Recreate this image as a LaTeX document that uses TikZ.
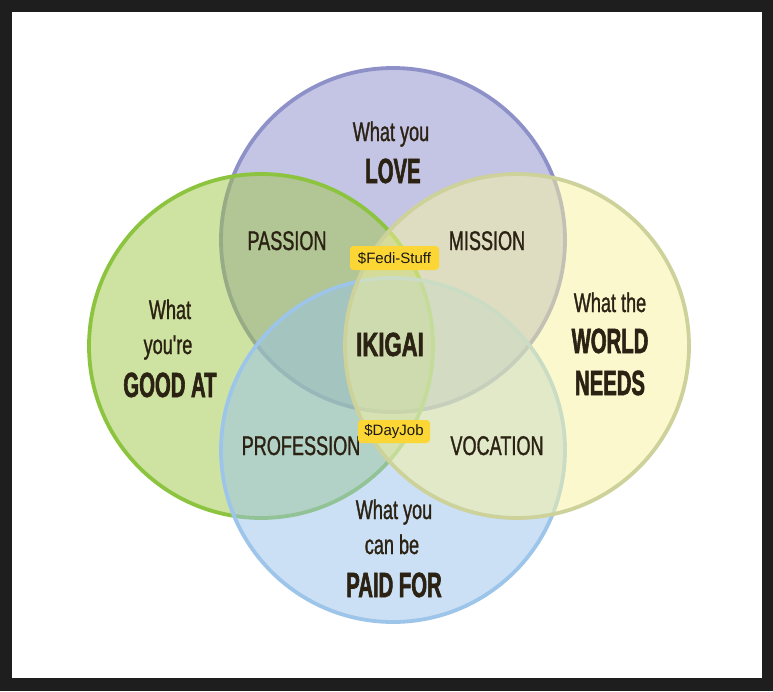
\documentclass[tikz,border=0pt]{standalone}
\usepackage{fontspec}
\newfontfamily\oswR[FakeStretch=0.67,FakeBold=1.1]{Liberation Sans}
\newfontfamily\oswB[FakeStretch=0.58,FakeBold=1.6]{Liberation Sans}
\newfontfamily\oswI[FakeStretch=0.66,FakeBold=1.6]{Liberation Sans}
\newfontfamily\tagfont{Liberation Sans}
\definecolor{frame}{HTML}{1E1E1E}
\definecolor{txt}{HTML}{2B2213}
\definecolor{pfill}{HTML}{8B8DCD}
\definecolor{pline}{HTML}{8E90C8}
\definecolor{gfill}{HTML}{9FC745}
\definecolor{gline}{HTML}{8CC43F}
\definecolor{yfill}{HTML}{F9F39F}
\definecolor{yline}{HTML}{CDD19A}
\definecolor{bfill}{HTML}{99C3ED}
\definecolor{bline}{HTML}{9DC5EA}
\definecolor{tagyellow}{HTML}{FCD635}
\tikzset{
  ring/.style={line width=3.8pt, fill opacity=0.5},
  reg/.style={inner sep=0pt, anchor=base, text=txt, font=\oswR\fontsize{27}{27}\selectfont},
  big/.style={inner sep=0pt, anchor=base, text=txt, font=\oswB\bfseries\fontsize{35}{35}\selectfont},
  tagbox/.style={fill=tagyellow, rounded corners=3.5pt, inner sep=0pt, minimum height=24pt, text=black!90, font=\tagfont\fontsize{15}{15}\selectfont}
}
\begin{document}
\begin{tikzpicture}[x=1pt,y=-1pt]
\fill[frame] (0,0) rectangle (773,691);
\fill[white] (12,12) rectangle (762,678);
% circles
\filldraw[ring, fill=pfill, draw=pline] (393,240) circle[radius=172pt];
\filldraw[ring, fill=gfill, draw=gline] (261,346) circle[radius=172pt];
\filldraw[ring, fill=bfill, draw=bline] (393,450) circle[radius=172pt];
\filldraw[ring, fill=yfill, draw=yline] (517,346) circle[radius=172pt];
% top
\node[reg] (love1) at (391,141) {What you};
\node[big] (love2) at (393,183) {LOVE};
% left
\node[reg] (good1) at (170,319) {What};
\node[reg] (good2) at (168,354) {you're};
\node[big] (good3) at (170,397) {GOOD AT};
% right
\node[reg] (world1) at (610,312) {What the};
\node[big] (world2) at (610,353) {WORLD};
\node[big] (world3) at (610,395) {NEEDS};
% bottom
\node[reg] (paid1) at (394,519) {What you};
\node[reg] (paid2) at (392,554) {can be};
\node[big] (paid3) at (394,597) {PAID FOR};
% overlaps
\node[reg] (passion) at (287,250) {PASSION};
\node[reg] (mission) at (487,250) {MISSION};
\node[reg] (profession) at (301,455) {PROFESSION};
\node[reg] (vocation) at (497,455) {VOCATION};
\node[inner sep=0pt, anchor=base, text=txt, font=\oswI\bfseries\fontsize{33.5}{33.5}\selectfont] (ikigai) at (390,356) {IKIGAI};
% tags
\node[tagbox, minimum width=89pt] (fedi) at (394.5,258) {\$Fedi-Stuff};
\node[tagbox, minimum width=72pt, minimum height=23pt] (dayjob) at (394,431.5) {\$DayJob};
\end{tikzpicture}
\end{document}
